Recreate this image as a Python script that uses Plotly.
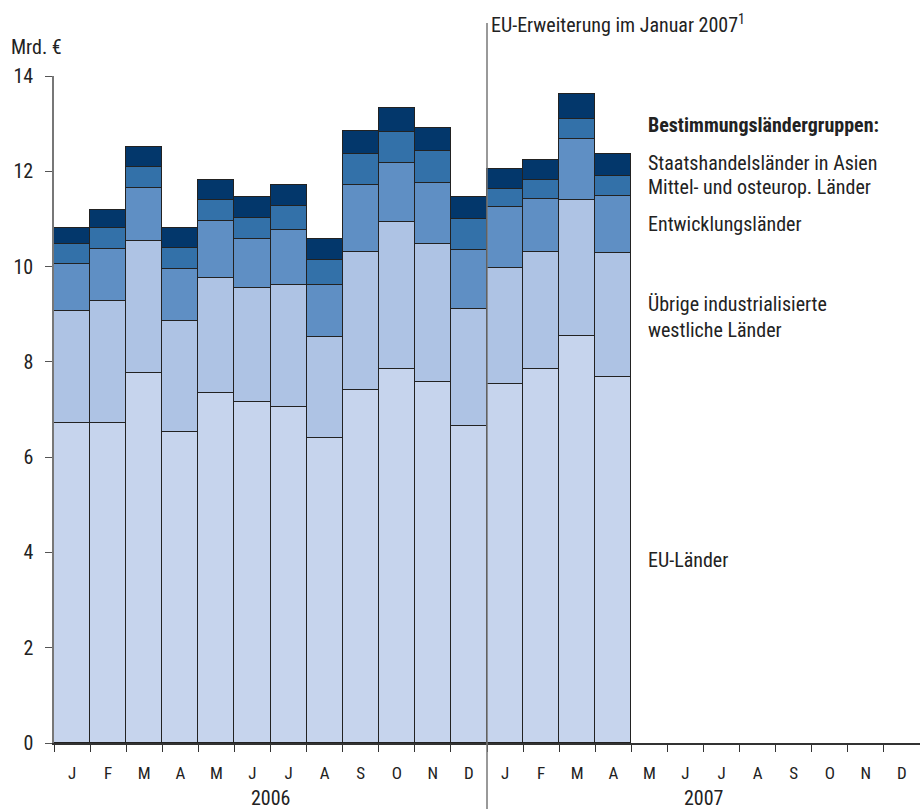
import plotly.graph_objects as go

months = ["J", "F", "M", "A", "M", "J", "J", "A", "S", "O", "N", "D",
          "J", "F", "M", "A", "M", "J", "J", "A", "S", "O", "N", "D"]
years = ["2006", "2007"]

eu_laender = [6.71, 6.71, 7.76, 6.52, 7.35, 7.16, 7.05, 6.40, 7.40, 7.85, 7.58, 6.65,
              7.54, 7.86, 8.54, 7.68]
uebrige_west = [2.36, 2.57, 2.78, 2.34, 2.40, 2.40, 2.56, 2.12, 2.91, 3.09, 2.90, 2.47,
                2.44, 2.45, 2.85, 2.61]
entwicklung = [0.98, 1.09, 1.11, 1.08, 1.21, 1.01, 1.16, 1.10, 1.40, 1.23, 1.27, 1.23,
               1.27, 1.11, 1.29, 1.19]
mittel_ost = [0.42, 0.43, 0.45, 0.44, 0.44, 0.44, 0.50, 0.51, 0.65, 0.66, 0.68, 0.64,
              0.38, 0.40, 0.42, 0.42]
staatshandel = [0.33, 0.39, 0.40, 0.42, 0.41, 0.44, 0.44, 0.45, 0.49, 0.49, 0.47, 0.46,
                0.42, 0.41, 0.53, 0.47]

series = [
    ("EU-Länder", eu_laender, "#c6d4ed"),
    ("Übrige industrialisierte westliche Länder", uebrige_west, "#aec3e4"),
    ("Entwicklungsländer", entwicklung, "#5f8fc4"),
    ("Mittel- und osteurop. Länder", mittel_ost, "#3371a9"),
    ("Staatshandelsländer in Asien", staatshandel, "#03376b"),
]

FONT = "Liberation Sans Narrow, Roboto Condensed, DejaVu Sans Condensed, Arial Narrow, sans-serif"
TXT = "#222222"

fig = go.Figure()
xs = list(range(len(eu_laender)))
for name, vals, col in series:
    fig.add_trace(go.Bar(
        x=xs, y=vals, name=name, width=1.0,
        marker=dict(color=col, line=dict(color="#222222", width=1.5)),
        showlegend=False, hoverinfo="y+name",
    ))

W, H = 920, 809
L, R, T, B = 54, 0, 76, 66
pw, ph = W - L - R, H - T - B

def px(x):
    return (x - L) / pw

def py(y):
    return (H - B - y) / ph

ann = []
ann.append(dict(text="Mrd. €", x=px(9), y=py(47), xanchor="left", yanchor="middle"))
ann.append(dict(text="EU-Erweiterung im Januar 2007<sup>1</sup>", x=px(489), y=py(24),
                xanchor="left", yanchor="middle"))
ann.append(dict(text="<b>Bestimmungsländergruppen:</b>", x=px(646), y=py(125),
                xanchor="left", yanchor="middle"))
legend_pos = [("Staatshandelsländer in Asien", 163),
              ("Mittel- und osteurop. Länder", 187),
              ("Entwicklungsländer", 224),
              ("Übrige industrialisierte<br>westliche Länder", 317),
              ("EU-Länder", 560)]
for t, yy in legend_pos:
    ann.append(dict(text=t, x=px(646), y=py(yy), xanchor="left", yanchor="middle"))
ann.append(dict(text=years[0], x=5.5, xref="x", y=py(798), xanchor="center", yanchor="middle"))
ann.append(dict(text=years[1], x=17.5, xref="x", y=py(798), xanchor="center", yanchor="middle"))

annotations = []
for a in ann:
    d = dict(xref=a.pop("xref", "paper"), yref="paper", showarrow=False,
             font=dict(family=FONT, size=20, color=TXT), align="left")
    d.update(a)
    annotations.append(d)

fig.update_layout(
    barmode="stack",
    width=W, height=H,
    margin=dict(l=L, r=R, t=T, b=B, autoexpand=False),
    paper_bgcolor="white", plot_bgcolor="white",
    bargap=0,
    annotations=annotations,
    shapes=[dict(type="line", xref="x", yref="paper", x0=11.5, x1=11.5,
                 y0=py(H), y1=py(23), line=dict(color="#777777", width=1.5))],
    xaxis=dict(
        range=[-0.5, 23.5], tickmode="array", tickvals=list(range(24)), ticktext=months,
        ticks="", showgrid=False, zeroline=False,
        showline=True, linecolor="#333333", linewidth=2,
        tickfont=dict(family=FONT, size=17, color=TXT),
        ticklabelstandoff=14,
        minor=dict(tickmode="array", tickvals=[i - 0.5 for i in range(25)],
                   ticks="outside", ticklen=7, tickcolor="#333333", tickwidth=1.3,
                   showgrid=False),
    ),
    yaxis=dict(
        range=[0, 14], tickmode="array", tickvals=list(range(0, 15, 2)),
        ticks="outside", ticklen=7, tickcolor="#555555", tickwidth=1.3,
        showgrid=False, zeroline=False,
        showline=True, linecolor="#777777", linewidth=1.5,
        tickfont=dict(family=FONT, size=20, color=TXT),
        ticklabelstandoff=8,
    ),
)

fig.write_html("out.html", config={"displayModeBar": False},
               post_script="document.body.style.margin='0px';document.body.style.overflow='hidden';")
